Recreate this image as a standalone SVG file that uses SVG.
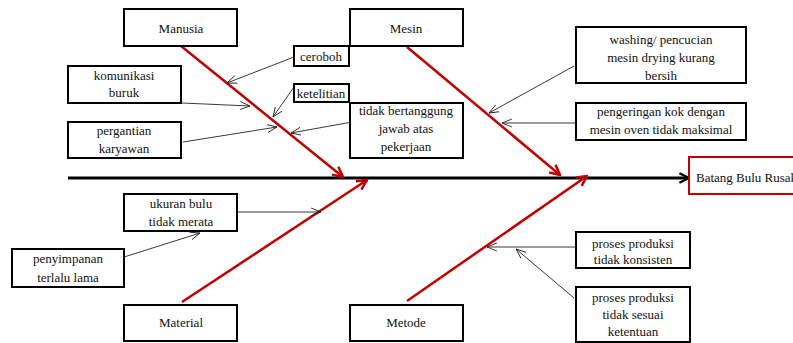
<svg xmlns="http://www.w3.org/2000/svg" width="793" height="343" viewBox="0 0 793 343">
<style>
.box{fill:#fff;stroke:#000;stroke-width:2}
.t{font-family:"Liberation Serif","Times New Roman",serif;font-size:13px;fill:#111;text-anchor:middle}
.red{stroke:#c00000;stroke-width:2.5;fill:none}
.thin{stroke:#222;stroke-width:0.9;fill:none}
.spine{stroke:#000;stroke-width:3;fill:none}
</style>
<defs>
<marker id="ra" viewBox="0 0 10 10" refX="9" refY="5" markerWidth="5" markerHeight="5" orient="auto" markerUnits="strokeWidth">
<path d="M1,1 L9,5 L1,9" fill="none" stroke="#c00000" stroke-width="2"/>
</marker>
<marker id="ba" viewBox="0 0 10 10" refX="9" refY="5" markerWidth="4" markerHeight="4" orient="auto" markerUnits="strokeWidth">
<path d="M1,1 L9,5 L1,9" fill="none" stroke="#000" stroke-width="2"/>
</marker>
<marker id="ta" viewBox="0 0 10 10" refX="10" refY="5" markerWidth="11" markerHeight="11" orient="auto" markerUnits="strokeWidth">
<path d="M0,1 L10,5 L0,9" fill="none" stroke="#222" stroke-width="0.9"/>
</marker>
</defs>

<g id="connectors">
<line class="spine" x1="68" y1="178" x2="689" y2="178" marker-end="url(#ba)"/>
<line class="red" x1="181" y1="46" x2="343" y2="177" marker-end="url(#ra)"/>
<line class="red" x1="407" y1="47" x2="560" y2="175" marker-end="url(#ra)"/>
<line class="red" x1="182" y1="302" x2="367" y2="180" marker-end="url(#ra)"/>
<line class="red" x1="407" y1="301" x2="587" y2="176" marker-end="url(#ra)"/>
<line class="thin" x1="294" y1="57" x2="227" y2="83" marker-end="url(#ta)"/>
<line class="thin" x1="182" y1="103" x2="250" y2="106" marker-end="url(#ta)"/>
<line class="thin" x1="294" y1="87" x2="273" y2="117" marker-end="url(#ta)"/>
<line class="thin" x1="183" y1="142" x2="277" y2="127" marker-end="url(#ta)"/>
<line class="thin" x1="352" y1="122" x2="291" y2="133" marker-end="url(#ta)"/>
<line class="thin" x1="574" y1="66" x2="489" y2="113" marker-end="url(#ta)"/>
<line class="thin" x1="576" y1="123" x2="502" y2="123" marker-end="url(#ta)"/>
<line class="thin" x1="237" y1="212" x2="321" y2="212" marker-end="url(#ta)"/>
<line class="thin" x1="124" y1="257" x2="200" y2="233" marker-end="url(#ta)"/>
<line class="thin" x1="576" y1="247" x2="487" y2="247" marker-end="url(#ta)"/>
<line class="thin" x1="574" y1="298" x2="516" y2="249" marker-end="url(#ta)"/>
</g>

<g id="manusia"><rect class="box" x="124" y="9" width="113" height="37"/><text class="t" x="181" y="33">Manusia</text></g>
<g id="mesin"><rect class="box" x="350" y="9" width="113" height="37"/><text class="t" x="406" y="33">Mesin</text></g>
<g id="ceroboh"><rect class="box" x="294" y="46" width="55" height="20"/><text class="t" x="321" y="61">ceroboh</text></g>
<g id="komunikasi"><rect class="box" x="68" y="66" width="113" height="37"/><text class="t" x="124" y="80">komunikasi</text><text class="t" x="124" y="97">buruk</text></g>
<g id="ketelitian"><rect class="box" x="294" y="84" width="55" height="18"/><text class="t" x="321" y="98">ketelitian</text></g>
<g id="pergantian"><rect class="box" x="68" y="122" width="113" height="36"/><text class="t" x="124" y="135">pergantian</text><text class="t" x="124" y="153">karyawan</text></g>
<g id="tidak-bertanggung"><rect class="box" x="350" y="103" width="113" height="55"/><text class="t" x="406" y="115">tidak bertanggung</text><text class="t" x="406" y="133">jawab atas</text><text class="t" x="406" y="151">pekerjaan</text></g>
<g id="washing"><rect class="box" x="576" y="27" width="170" height="56"/><text class="t" x="661" y="44">washing/ pencucian</text><text class="t" x="661" y="62">mesin drying kurang</text><text class="t" x="661" y="80">bersih</text></g>
<g id="pengeringan"><rect class="box" x="576" y="103" width="170" height="37"/><text class="t" x="661" y="116">pengeringan kok dengan</text><text class="t" x="661" y="134">mesin oven tidak maksimal</text></g>
<g id="batang"><rect x="689" y="157" width="110" height="37" fill="#fff" stroke="#c00000" stroke-width="2"/><text class="t" x="696" y="182" style="text-anchor:start">Batang Bulu Rusak</text></g>
<g id="ukuran"><rect class="box" x="124" y="194" width="113" height="37"/><text class="t" x="181" y="208">ukuran bulu</text><text class="t" x="181" y="226">tidak merata</text></g>
<g id="penyimpanan"><rect class="box" x="12" y="249" width="112" height="38"/><text class="t" x="68" y="263">penyimpanan</text><text class="t" x="68" y="282">terlalu lama</text></g>
<g id="material"><rect class="box" x="124" y="305" width="113" height="36"/><text class="t" x="181" y="327">Material</text></g>
<g id="metode"><rect class="box" x="350" y="305" width="113" height="36"/><text class="t" x="406" y="327">Metode</text></g>
<g id="konsisten"><rect class="box" x="576" y="232" width="114" height="36"/><text class="t" x="633" y="248">proses produksi</text><text class="t" x="633" y="264">tidak konsisten</text></g>
<g id="sesuai"><rect class="box" x="576" y="287" width="114" height="55"/><text class="t" x="633" y="302">proses produksi</text><text class="t" x="633" y="319">tidak sesuai</text><text class="t" x="633" y="336">ketentuan</text></g>
</svg>
